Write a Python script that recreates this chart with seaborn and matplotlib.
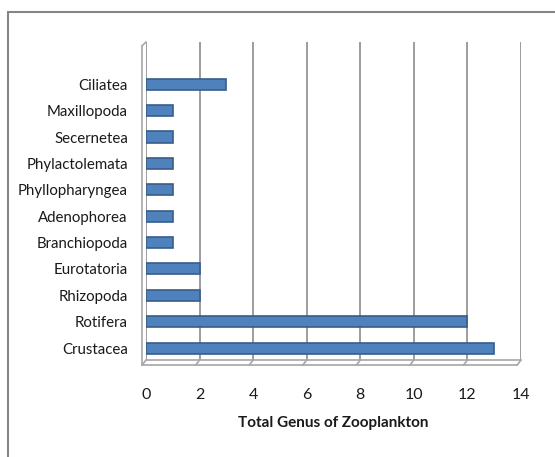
import matplotlib
matplotlib.use("Agg")
import matplotlib.pyplot as plt
import seaborn as sns
import pandas as pd
from matplotlib.patches import Rectangle

# ----------------------------------------------------------
# Data (top to bottom as shown in the chart)
# ----------------------------------------------------------
classes = ["Ciliatea", "Maxillopoda", "Secernetea", "Phylactolemata",
           "Phyllopharyngea", "Adenophorea", "Branchiopoda", "Eurotatoria",
           "Rhizopoda", "Rotifera", "Crustacea"]
genus_count = [3, 1, 1, 1, 1, 1, 1, 2, 2, 12, 13]
x_ticks = [0, 2, 4, 6, 8, 10, 12, 14]

df = pd.DataFrame({"Class": classes, "Genus": genus_count})

sns.set_style("white")
plt.rcParams["font.family"] = ["Lato", "DejaVu Sans"]

fig = plt.figure(figsize=(5.55, 4.57), dpi=100)
ax = fig.add_axes([146 / 555, 1 - 360 / 457, 375 / 555, 318 / 457])

sns.barplot(data=df, x="Genus", y="Class", order=classes, orient="h",
            color="#4F81BD", width=0.42, saturation=1,
            edgecolor="#385D8A", linewidth=1.2, ax=ax)

ax.set_xlim(0, 14)
ax.set_ylim(10.45, -1.6)
ax.set_xticks(x_ticks)
ax.xaxis.grid(True, color="#8C8C8C", linewidth=1.2)
ax.set_axisbelow(True)
for s in ax.spines.values():
    s.set_visible(False)

# simple 3D floor / wall outline
gray = "#A6A6A6"
ax.plot([0, 14], [10.45, 10.45], color=gray, lw=1.2, clip_on=False)
ax.plot([-0.15, 13.85], [10.65, 10.65], color=gray, lw=1.2, clip_on=False)
for t in x_ticks:
    ax.plot([t, t - 0.15], [10.45, 10.65], color=gray, lw=1.2, clip_on=False)
ax.plot([-0.15, -0.15], [-1.45, 10.65], color=gray, lw=1.2, clip_on=False)
ax.plot([-0.15, 0], [-1.45, -1.6], color=gray, lw=1.2, clip_on=False)

ax.tick_params(axis="x", length=0, pad=20, labelsize=11.5, colors="#1a1a1a")
ax.tick_params(axis="y", length=0, pad=13, labelsize=10.8, colors="#1a1a1a")
ax.set_ylabel("")
ax.set_xlabel("Total Genus of Zooplankton", fontsize=11, fontweight="bold",
              labelpad=10, color="#1a1a1a")

# chart border
fig.patches.append(Rectangle((8 / 555, -0.1), 1.2, 1 - 12 / 457 + 0.1,
                             transform=fig.transFigure, fill=False,
                             edgecolor="#868686", linewidth=1.5))

fig.savefig("out.png", dpi=100)
